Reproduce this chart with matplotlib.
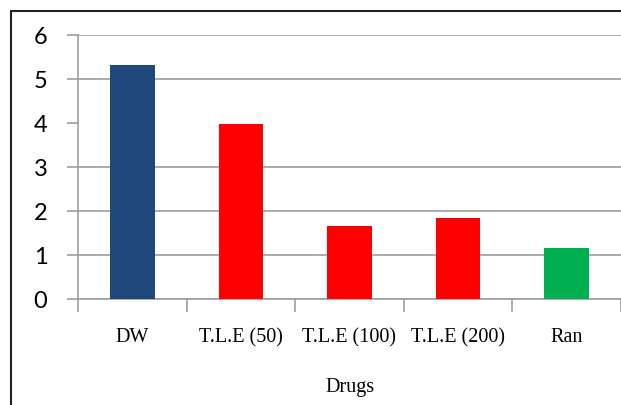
import matplotlib.pyplot as plt
from matplotlib.patches import Rectangle

drugs = ["DW", "T.L.E (50)", "T.L.E (100)", "T.L.E (200)", "Ran"]
values = [5.32, 3.98, 1.66, 1.84, 1.16]
colors = ["#1f497d", "#ff0000", "#ff0000", "#ff0000", "#00b050"]
yticks = [0, 1, 2, 3, 4, 5, 6]

fig = plt.figure(figsize=(6.21, 4.05), dpi=100)
ax = fig.add_axes([78 / 621, 1 - 299 / 405, 543 / 621, 264 / 405])

x = range(len(drugs))
ax.bar(x, values, width=0.41, color=colors, zorder=3)

ax.set_xlim(-0.5, len(drugs) - 0.5)
ax.set_ylim(0, 6)
ax.set_yticks(yticks)
ax.set_yticklabels([str(t) for t in yticks], fontfamily="Lato", fontsize=17)
ax.yaxis.grid(True, color="#9e9e9e", linewidth=1.2, zorder=0)
ax.yaxis.get_gridlines()[4].set_visible(False)  # no line drawn at 4
ax.tick_params(axis="y", length=8, width=1.2, color="#9e9e9e", pad=14)

ax.set_xticks(list(x))
ax.set_xticklabels(drugs, fontfamily="Liberation Serif", fontsize=14.5)
ax.set_xticks([i - 0.5 for i in range(len(drugs) + 1)], minor=True)
ax.tick_params(axis="x", which="major", length=0, pad=21)
ax.tick_params(axis="x", which="minor", length=9, width=1.2, color="#9e9e9e")
ax.set_xlabel("Drugs", fontfamily="Liberation Serif", fontsize=14.5, labelpad=22)

for side in ["top", "right"]:
    ax.spines[side].set_visible(False)
for side in ["left", "bottom"]:
    ax.spines[side].set_color("#9e9e9e")
    ax.spines[side].set_linewidth(1.2)

# frame around the chart area
fig.patches.append(Rectangle((11 / 621, -0.1), 1.0, 1.1 - 11 / 405,
                             transform=fig.transFigure, fill=False,
                             edgecolor="#222222", linewidth=1.5))

fig.savefig("out.png", dpi=100)
